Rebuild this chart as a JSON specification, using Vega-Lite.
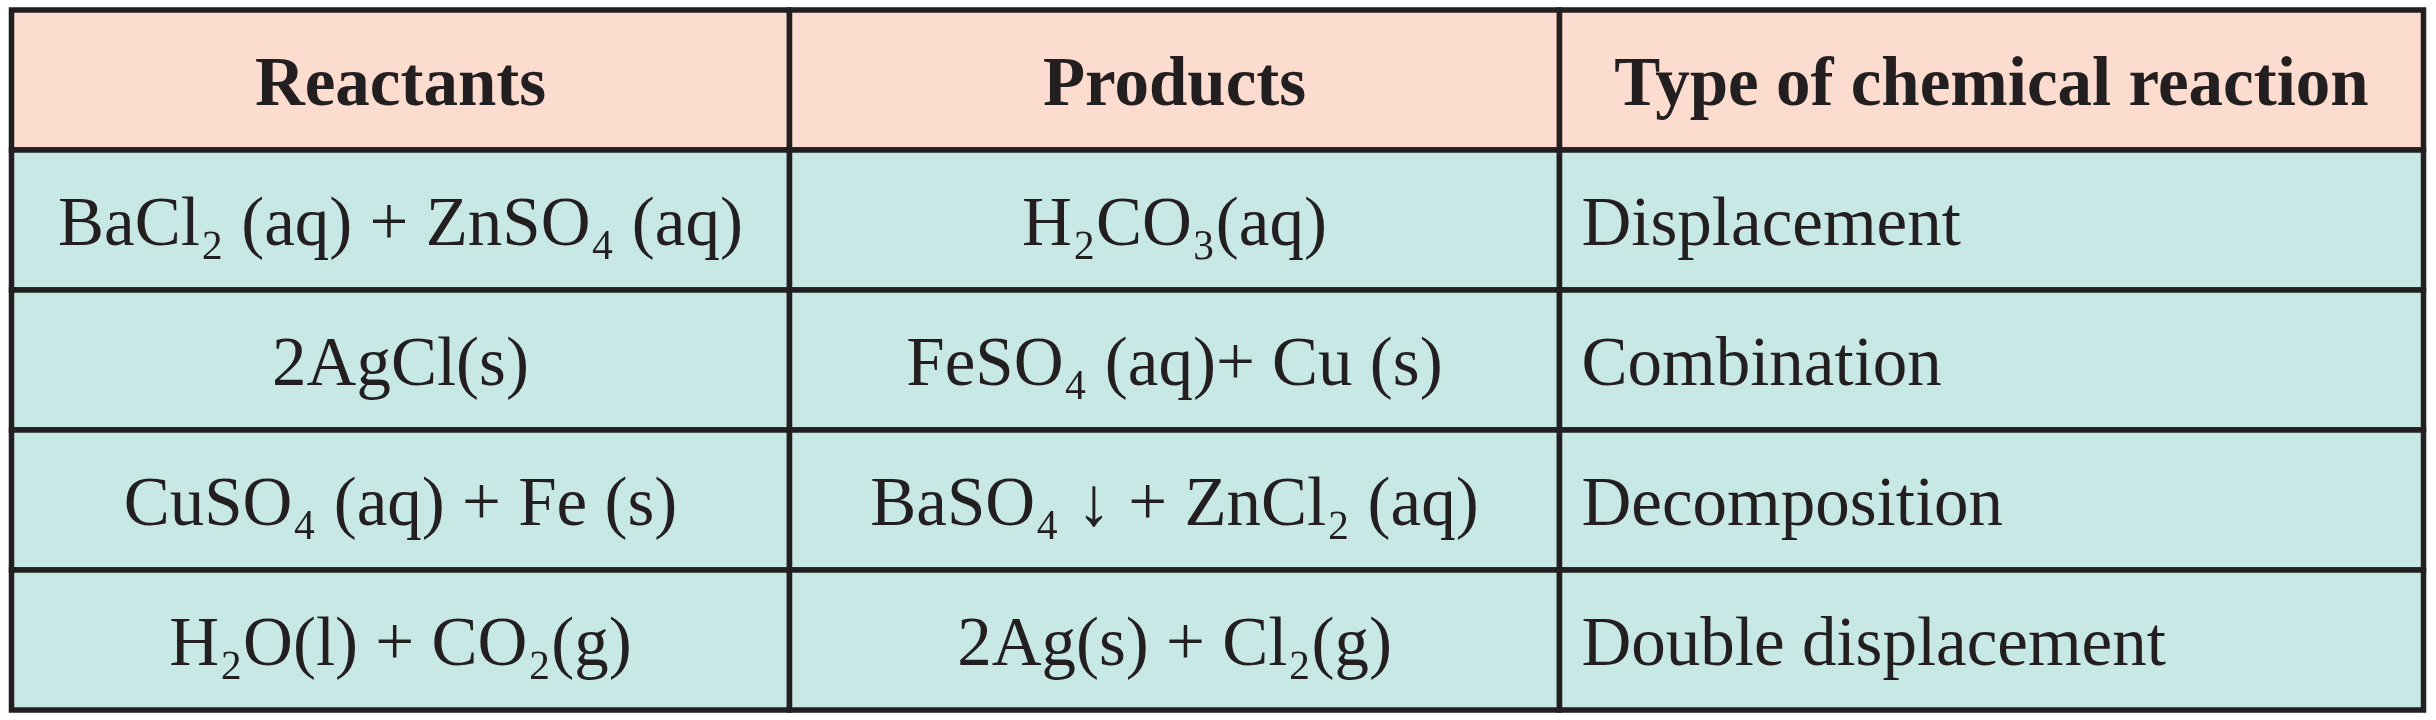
{
  "$schema": "https://vega.github.io/schema/vega-lite/v6.json",
  "background": "white",
  "padding": {"left": 8.5, "top": 7, "right": 0, "bottom": 0},
  "bounds": "flush",
  "spacing": 0,
  "datasets": {
    "cells": [
      {"row": 0, "col": "Reactants", "text": "Reactants"},
      {"row": 0, "col": "Products", "text": "Products"},
      {"row": 0, "col": "Type", "text": "Type of chemical reaction"},
      {"row": 1, "col": "Reactants", "text": "BaCl₂ (aq) + ZnSO₄ (aq)"},
      {"row": 1, "col": "Products", "text": "H₂CO₃(aq)"},
      {"row": 1, "col": "Type", "text": "Displacement"},
      {"row": 2, "col": "Reactants", "text": "2AgCl(s)"},
      {"row": 2, "col": "Products", "text": "FeSO₄ (aq)+ Cu (s)"},
      {"row": 2, "col": "Type", "text": "Combination"},
      {"row": 3, "col": "Reactants", "text": "CuSO₄ (aq) + Fe (s)"},
      {"row": 3, "col": "Products", "text": "BaSO₄ ↓ + ZnCl₂ (aq)"},
      {"row": 3, "col": "Type", "text": "Decomposition"},
      {"row": 4, "col": "Reactants", "text": "H₂O(l) + CO₂(g)"},
      {"row": 4, "col": "Products", "text": "2Ag(s) + Cl₂(g)"},
      {"row": 4, "col": "Type", "text": "Double displacement"}
    ]
  },
  "config": {
    "view": {"stroke": null},
    "concat": {"spacing": 0},
    "text": {"font": "Liberation Serif", "fontSize": 69, "fill": "#231f20", "baseline": "middle", "dy": 4}
  },
  "hconcat": [
    {
      "width": 778,
      "height": 700,
      "data": {"name": "cells"},
      "transform": [{"filter": "datum.col === 'Reactants'"}],
      "encoding": {
        "x": {"field": "col", "type": "nominal", "axis": null, "scale": {"paddingInner": 0, "paddingOuter": 0}},
        "y": {"field": "row", "type": "ordinal", "axis": null, "scale": {"paddingInner": 0, "paddingOuter": 0}}
      },
      "layer": [
        {
          "mark": {"type": "rect", "stroke": "#231f20", "strokeWidth": 5.5},
          "encoding": {"fill": {"condition": {"test": "datum.row === 0", "value": "#fbdccf"}, "value": "#c8e8e5"}}
        },
        {
          "transform": [{"filter": "datum.row === 0"}],
          "mark": {"type": "text", "fontWeight": "bold"},
          "encoding": {"text": {"field": "text"}}
        },
        {
          "transform": [{"filter": "datum.row > 0"}],
          "mark": {"type": "text"},
          "encoding": {"text": {"field": "text"}}
        }
      ]
    },
    {
      "width": 770,
      "height": 700,
      "data": {"name": "cells"},
      "transform": [{"filter": "datum.col === 'Products'"}],
      "encoding": {
        "x": {"field": "col", "type": "nominal", "axis": null, "scale": {"paddingInner": 0, "paddingOuter": 0}},
        "y": {"field": "row", "type": "ordinal", "axis": null, "scale": {"paddingInner": 0, "paddingOuter": 0}}
      },
      "layer": [
        {
          "mark": {"type": "rect", "stroke": "#231f20", "strokeWidth": 5.5},
          "encoding": {"fill": {"condition": {"test": "datum.row === 0", "value": "#fbdccf"}, "value": "#c8e8e5"}}
        },
        {
          "transform": [{"filter": "datum.row === 0"}],
          "mark": {"type": "text", "fontWeight": "bold"},
          "encoding": {"text": {"field": "text"}}
        },
        {
          "transform": [{"filter": "datum.row > 0"}],
          "mark": {"type": "text"},
          "encoding": {"text": {"field": "text"}}
        }
      ]
    },
    {
      "width": 864,
      "height": 700,
      "data": {"name": "cells"},
      "transform": [{"filter": "datum.col === 'Type'"}],
      "encoding": {
        "y": {"field": "row", "type": "ordinal", "axis": null, "scale": {"paddingInner": 0, "paddingOuter": 0}}
      },
      "layer": [
        {
          "mark": {"type": "rect", "stroke": "#231f20", "strokeWidth": 5.5},
          "encoding": {
            "x": {"field": "col", "type": "nominal", "axis": null, "scale": {"paddingInner": 0, "paddingOuter": 0}},
            "fill": {"condition": {"test": "datum.row === 0", "value": "#fbdccf"}, "value": "#c8e8e5"}
          }
        },
        {
          "transform": [{"filter": "datum.row === 0"}],
          "mark": {"type": "text", "fontWeight": "bold"},
          "encoding": {
            "x": {"field": "col", "type": "nominal", "axis": null},
            "text": {"field": "text"}
          }
        },
        {
          "transform": [{"filter": "datum.row > 0"}],
          "mark": {"type": "text", "align": "left", "dx": 22},
          "encoding": {
            "x": {"field": "col", "type": "nominal", "axis": null, "bandPosition": 0},
            "text": {"field": "text"}
          }
        }
      ]
    }
  ]
}
